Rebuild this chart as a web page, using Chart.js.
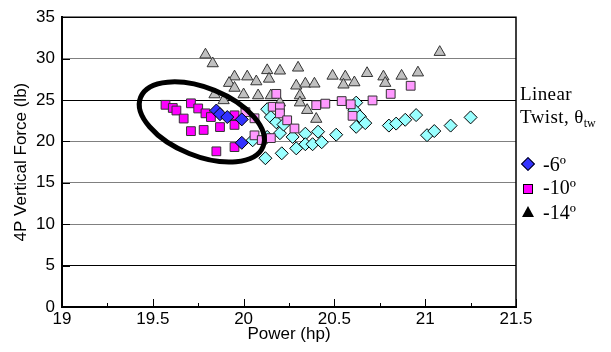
<!DOCTYPE html>
<html>
<head>
<meta charset="utf-8">
<script src="https://cdn.jsdelivr.net/npm/chart.js@4/dist/chart.umd.min.js"></script>
<style>
  html, body { margin:0; padding:0; background:#fff; }
  #wrap { position:relative; width:611px; height:352px; overflow:hidden; }
  #c { position:absolute; left:0; top:0; }
  .lg { position:absolute; font-family:'Liberation Serif','Times New Roman',serif; color:#000; line-height:1; white-space:nowrap; }
  .mk { position:absolute; box-sizing:border-box; }
</style>
</head>
<body>
<div id="wrap">
  <canvas id="c" width="611" height="352"></canvas>
  <div class="lg" style="left:520px; top:84px; font-size:19px; letter-spacing:0.4px;">Linear</div>
  <div class="lg" style="left:520px; top:107px; font-size:19px; letter-spacing:0.4px;">Twist, θ<span style="font-size:12px; position:relative; top:4px; letter-spacing:0;">tw</span></div>
  <div class="mk" style="left:523px; top:159px; width:10px; height:10px; background:#3333ff; border:1.5px solid #000; transform:rotate(45deg);"></div>
  <div class="lg" style="left:543px; top:154px; font-size:20px;">-6º</div>
  <div class="mk" style="left:523px; top:184px; width:10px; height:10px; background:#ff00ff; border:1.5px solid #000;"></div>
  <div class="lg" style="left:543px; top:177px; font-size:20px;">-10º</div>
  <div class="mk" style="left:522px; top:206px; width:0; height:0; border-left:6.5px solid transparent; border-right:6.5px solid transparent; border-bottom:11px solid #000;"></div>
  <div class="lg" style="left:543px; top:202px; font-size:20px;">-14º</div>
</div>
<script>
// ---- axis ticks ----
const xTickValues = [19, 19.5, 20, 20.5, 21, 21.5];
const xTickLabels = ['19', '19.5', '20', '20.5', '21', '21.5'];
const yTickValues = [0, 5, 10, 15, 20, 25, 30, 35];
const yTickLabels = ['0', '5', '10', '15', '20', '25', '30', '35'];

// ---- series: -6 deg (dark blue diamonds, circled group) ----
const blue6X = [19.85, 19.87, 19.91, 19.99, 19.99];
const blue6Y = [23.73, 23.29, 22.94, 22.66, 19.83];

// ---- series: -10 deg (magenta squares, circled group) ----
const mag10X = [19.57, 19.61, 19.63, 19.67, 19.71, 19.75, 19.79, 19.82, 19.95, 19.95, 19.87, 19.78, 19.71, 19.85, 19.95];
const mag10Y = [24.42, 24.04, 23.73, 22.76, 24.60, 23.98, 23.39, 22.94, 23.15, 21.99, 21.73, 21.38, 21.24, 18.80, 19.31];

// ---- series: -6 deg (light cyan diamonds) ----
const cyan6X = [20.05, 20.12, 20.13, 20.15, 20.18, 20.20, 20.21, 20.22, 20.27, 20.29, 20.34, 20.34, 20.38, 20.41, 20.43, 20.51, 20.62, 20.61, 20.64, 20.62, 20.67, 20.80, 20.84, 20.89, 20.95, 21.01, 21.05, 21.14, 21.25, 20.13];
const cyan6Y = [20.14, 17.97, 23.89, 22.94, 22.31, 20.99, 18.56, 22.03, 20.54, 19.16, 20.93, 19.66, 19.66, 21.17, 19.90, 20.81, 24.68, 23.77, 23.02, 21.76, 22.21, 21.91, 22.15, 22.61, 23.18, 20.75, 21.25, 21.91, 22.90, 20.54];

// ---- series: -10 deg (light pink squares) ----
const pink10X = [20.01, 20.06, 20.18, 20.16, 20.20, 20.20, 20.24, 20.28, 20.06, 20.10, 20.15, 20.40, 20.45, 20.54, 20.59, 20.60, 20.71, 20.81, 20.92];
const pink10Y = [23.53, 22.79, 25.74, 24.18, 24.12, 23.38, 22.55, 21.56, 20.73, 20.16, 20.40, 24.38, 24.56, 24.87, 24.48, 23.09, 24.95, 25.74, 26.72];

// ---- series: -14 deg (gray triangles) ----
const tri14X = [19.79, 19.83, 19.95, 20.02, 19.92, 19.95, 20.07, 20.13, 20.20, 20.30, 20.14, 20.29, 20.34, 20.39, 19.84, 19.89, 20.00, 20.08, 20.15, 20.20, 20.31, 20.31, 20.35, 20.40, 20.49, 20.56, 20.68, 20.77, 20.78, 20.87, 20.96, 21.08, 20.55, 20.61];
const tri14Y = [30.47, 29.41, 27.82, 27.82, 27.04, 26.45, 27.23, 28.58, 28.53, 28.89, 27.55, 26.72, 26.96, 26.96, 25.66, 24.95, 25.66, 25.54, 25.54, 24.68, 25.54, 24.68, 23.77, 22.70, 27.91, 27.82, 28.23, 27.82, 27.04, 27.91, 28.30, 30.78, 26.84, 27.11];

// ---- annotation: ellipse around the circled group (centre in data units) ----
const ellipseCenter = { x: 19.77, y: 22.35 };

const pts = (xs, ys) => xs.map((x, i) => ({ x: x, y: ys[i] }));

const decor = {
  id: 'decor',
  beforeDatasetsDraw(chart) {
    const { ctx, chartArea: a, scales: { x, y } } = chart;
    ctx.save();
    ctx.strokeStyle = '#000';
    ctx.lineWidth = 1;
    ctx.beginPath();
    yTickValues.forEach(v => {
      const p = Math.round(y.getPixelForValue(v)) + 0.5;
      ctx.moveTo(a.left, p); ctx.lineTo(a.left + 8, p);
    });
    xTickValues.forEach((v, i) => {
      const p = Math.round(x.getPixelForValue(v)) + 0.5;
      ctx.moveTo(p, a.bottom); ctx.lineTo(p, a.bottom - 8);
      if (i < xTickValues.length - 1) {
        const m = Math.round(x.getPixelForValue((v + xTickValues[i + 1]) / 2)) + 0.5;
        ctx.moveTo(m, a.bottom); ctx.lineTo(m, a.bottom - 4);
      }
    });
    ctx.stroke();
    ctx.lineWidth = 1.5;
    ctx.beginPath();
    ctx.moveTo(a.left, a.top); ctx.lineTo(a.right, a.top); ctx.lineTo(a.right, a.bottom);
    ctx.stroke();
    ctx.restore();
  },
  afterDatasetsDraw(chart) {
    const { ctx, scales: { x, y } } = chart;
    ctx.save();
    ctx.strokeStyle = '#000';
    ctx.lineWidth = 5;
    ctx.beginPath();
    ctx.ellipse(x.getPixelForValue(ellipseCenter.x), y.getPixelForValue(ellipseCenter.y), 66, 34, 22 * Math.PI / 180, 0, Math.PI * 2);
    ctx.stroke();
    ctx.restore();
  }
};

const font = { family: "'Liberation Sans', Arial, sans-serif", size: 17 };

new Chart(document.getElementById('c'), {
  type: 'scatter',
  data: {
    datasets: [
      { label: '-6º', data: pts(blue6X, blue6Y), pointStyle: 'rectRot', pointRadius: 6.5, backgroundColor: '#3333ff', borderColor: '#000', borderWidth: 1 },
      { label: '-10º', data: pts(mag10X, mag10Y), pointStyle: 'rect', pointRadius: 6.2, backgroundColor: '#ff00ff', borderColor: '#333', borderWidth: 1 },
      { label: '-10º b', data: pts(pink10X, pink10Y), pointStyle: 'rect', pointRadius: 6.2, backgroundColor: '#ff99ff', borderColor: '#333', borderWidth: 1 },
      { label: '-6º b', data: pts(cyan6X, cyan6Y), pointStyle: 'rectRot', pointRadius: 6.5, backgroundColor: '#99ffff', borderColor: '#000', borderWidth: 1 },
      { label: '-14º', data: pts(tri14X, tri14Y), pointStyle: 'triangle', pointRadius: 6.5, backgroundColor: '#c0c0c0', borderColor: '#333', borderWidth: 1 }
    ]
  },
  options: {
    responsive: false,
    animation: false,
    layout: { padding: { top: 11, right: 95, left: 0, bottom: 0 } },
    plugins: { legend: { display: false }, tooltip: { enabled: false } },
    scales: {
      x: {
        type: 'linear', min: 19, max: 21.5,
        afterFit: s => { s.height = 45; },
        afterBuildTicks: s => { s.ticks = xTickValues.map(v => ({ value: v })); },
        grid: { display: false, drawTicks: false },
        border: { display: true, color: '#000', width: 2 },
        ticks: { color: '#000', font: font, padding: 2, maxRotation: 0,
                 callback: (v, i) => xTickLabels[i] },
        title: { display: true, text: 'Power (hp)', color: '#000', font: font, padding: { top: 0, bottom: 7 } }
      },
      y: {
        type: 'linear', min: 0, max: 35,
        afterFit: s => { s.width = 62; },
        afterBuildTicks: s => { s.ticks = yTickValues.map(v => ({ value: v })); },
        grid: {
          drawTicks: false,
          color: c => ([25, 5, 35].includes(c.tick && c.tick.value) ? '#000' : '#808080'),
          lineWidth: 1
        },
        border: { display: true, color: '#000', width: 2 },
        ticks: { color: '#000', font: font, padding: 7,
                 callback: (v, i) => yTickLabels[i] },
        title: { display: true, text: '4P Vertical Force (lb)', color: '#000', font: font, padding: { top: 11, bottom: 0 } }
      }
    }
  },
  plugins: [decor]
});
</script>
</body>
</html>
